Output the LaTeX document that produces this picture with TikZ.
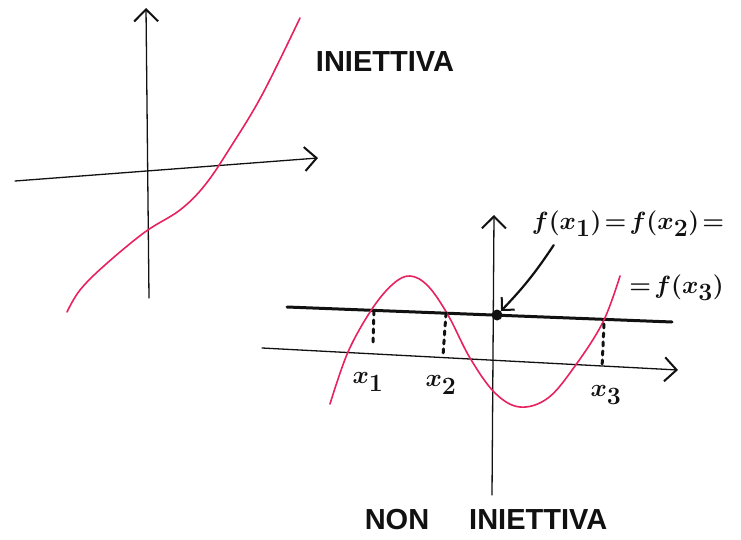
\documentclass[tikz,border=0pt]{standalone}
\usepackage{fontspec}
\setmainfont{Liberation Sans}
\usepackage{tikz}
\usetikzlibrary{arrows.meta,positioning}
\definecolor{SketchInk}{HTML}{111111}
\definecolor{SketchPink}{HTML}{E8215F}
\tikzset{
  axisline/.style={-{Straight Barb[length=12pt,width=24pt,line width=2pt]},line width=1.3pt,draw=SketchInk,line cap=round},
  curveline/.style={line width=1.6pt,draw=SketchPink,line cap=round},
  levelline/.style={line width=3pt,draw=SketchInk,line cap=round},
  dropline/.style={line width=3pt,draw=SketchInk,line cap=round,dash pattern=on 4pt off 5pt},
  pointer/.style={-{Straight Barb[length=9pt,width=18pt,line width=2pt]},line width=2.2pt,draw=SketchInk,line cap=round},
  title/.style={font=\fontsize{29}{34}\selectfont\bfseries,text=SketchInk,inner sep=0pt},
  xlabel/.style={font=\fontsize{34}{38}\selectfont\boldmath,text=SketchInk,inner sep=0pt},
  eqlabel/.style={font=\fontsize{34}{38}\selectfont\boldmath,text=SketchInk,inner sep=0pt},
  dot/.style={circle,fill=SketchInk,minimum size=11pt,inner sep=0pt}
}
\begin{document}
\begin{tikzpicture}[x=1pt,y=-1pt]
  \useasboundingbox (0,0) rectangle (741,540);
  % injective function
  \coordinate (lyb) at (149,298);
  \coordinate (lyt) at (146,8);
  \coordinate (lxl) at (15,181);
  \coordinate (lxr) at (318,158);
  \draw[axisline] (lyb) -- (lyt);
  \draw[axisline] (lxl) -- (lxr);
  \draw[curveline] plot[smooth,tension=0.6] coordinates {(67,312) (80,290) (105,265) (145,232) (180,210) (205,185) (230,148) (262,95) (300,18)};
  \node[title] (inj) at (385,62) {INIETTIVA};

  % non injective function
  \coordinate (ryb) at (492,495);
  \coordinate (ryt) at (494,215);
  \coordinate (rxl) at (262,348);
  \coordinate (rxr) at (678,370);
  \coordinate (lvl) at (287,307);
  \coordinate (lvr) at (672,322);
  \draw[axisline] (ryb) -- (ryt);
  \draw[axisline] (rxl) -- (rxr);
  \draw[levelline] (lvl) -- (lvr);
  \draw[curveline] plot[smooth,tension=0.6] coordinates {(330,404) (348,352) (372,309) (393,284) (410,276) (428,286) (448,315) (470,358) (495,393) (520,407) (548,398) (575,366) (603,322) (620,276)};
  \node[dot] (meet) at (497,315) {};

  \coordinate (d1t) at (374,311);
  \coordinate (d1b) at (373,343);
  \coordinate (d2t) at (446,313);
  \coordinate (d2b) at (443,356);
  \coordinate (d3t) at (604,324);
  \coordinate (d3b) at (602,368);
  \draw[dropline] (d1t) -- (d1b);
  \draw[dropline] (d2t) -- (d2b);
  \draw[dropline] (d3t) -- (d3b);
  \node[xlabel] (x1) at (368,382) {$x_1$};
  \node[xlabel] (x2) at (441,385) {$x_2$};
  \node[xlabel] (x3) at (606,395) {$x_3$};

  \node[eqlabel] (eq) at (628,224) {$f(x_1)\!=\!f(x_2)\!=$};
  \node[eqlabel,anchor=east] (eq3) at (724,288) {$=\!f(x_3)$};
  \draw[pointer] (eq.south west) ++(22,8) to[bend left=5] (meet.north east);
  \node[title] (noinj) at (486,520) {NON\hspace{40pt}INIETTIVA};
\end{tikzpicture}
\end{document}
